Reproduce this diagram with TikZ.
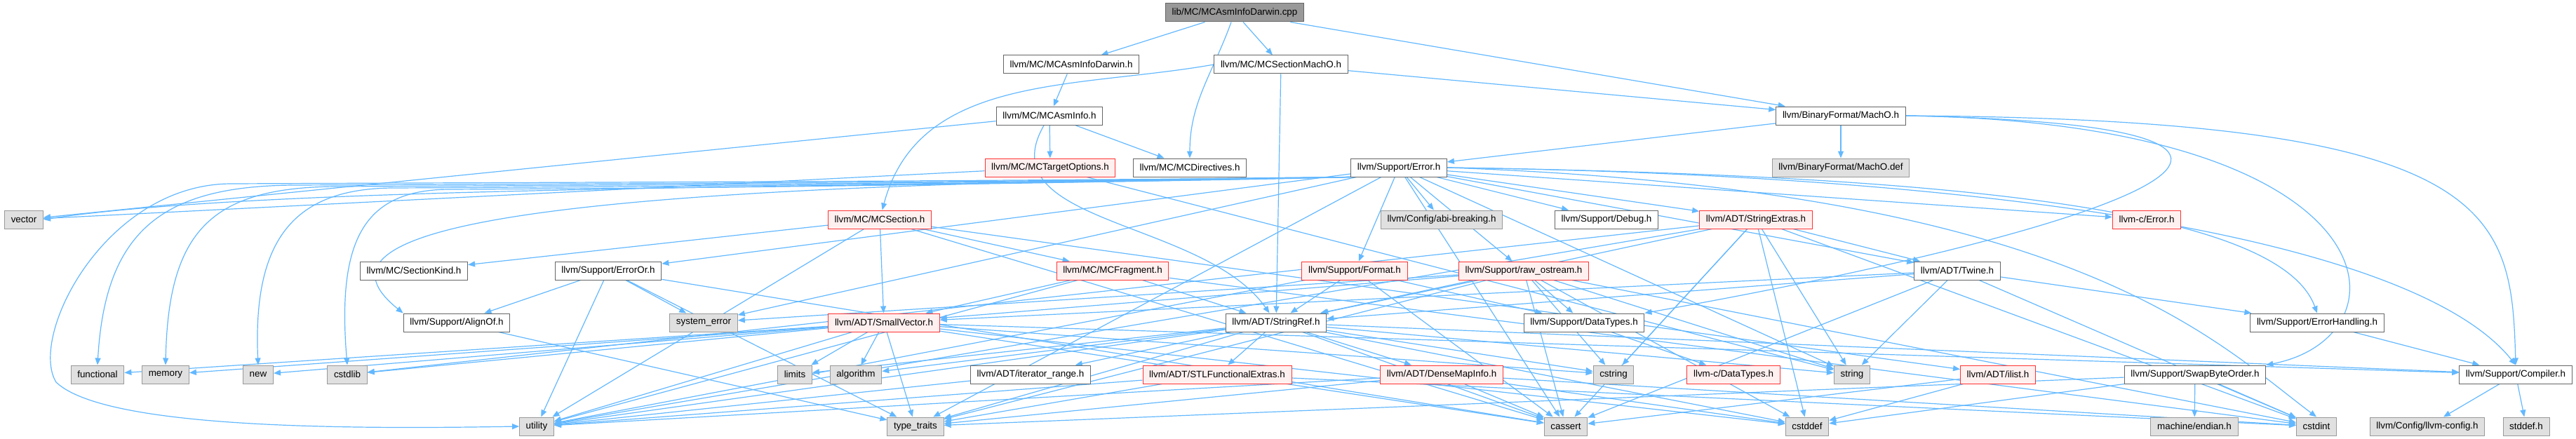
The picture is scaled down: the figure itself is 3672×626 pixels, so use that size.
\documentclass[tikz,border=0pt]{standalone}
\usepackage{fontspec}
\setmainfont{Liberation Sans}
\usetikzlibrary{arrows.meta, backgrounds}
\definecolor{edgeblue}{HTML}{63B8FF}
\definecolor{boxgrey}{HTML}{666666}
\definecolor{sysfill}{HTML}{E0E0E0}
\definecolor{sysline}{HTML}{999999}
\definecolor{truncline}{HTML}{FF3333}
\definecolor{truncfill}{HTML}{FFF0F0}
\definecolor{rootfill}{HTML}{999999}
\begin{document}
\begin{tikzpicture}[
    x=0.5pt, y=-0.5pt,
    hdr/.style={draw=boxgrey, fill=white, line width=0.5pt, minimum height=13pt,
      inner xsep=4.6pt, inner ysep=0pt, font=\fontsize{6.7}{7}\selectfont},
    sys/.style={hdr, draw=sysline, fill=sysfill},
    trunc/.style={hdr, draw=truncline, fill=truncfill},
    root/.style={hdr, fill=rootfill},
    dep/.style={draw=edgeblue, line width=0.6pt, -{Triangle[length=5pt,width=4pt]}},
  ]
  \useasboundingbox (0,0) rectangle (3672,626);
  % rank 0-2: the source file and its direct headers
  \node[root] (cpp) at (1760,18) {lib/MC/MCAsmInfoDarwin.cpp};
  \node[hdr] (aid) at (1527,92) {llvm/MC/MCAsmInfoDarwin.h};
  \node[hdr] (smo) at (1826,92) {llvm/MC/MCSectionMachO.h};
  \node[hdr] (mai) at (1496,165) {llvm/MC/MCAsmInfo.h};
  \node[hdr] (macho) at (2624,165) {llvm/BinaryFormat/MachO.h};
  % rank 3
  \node[trunc] (mto) at (1497,239) {llvm/MC/MCTargetOptions.h};
  \node[hdr] (mdir) at (1696,239) {llvm/MC/MCDirectives.h};
  \node[hdr] (err) at (1994,239) {llvm/Support/Error.h};
  \node[sys] (machodef) at (2624,239) {llvm/BinaryFormat/MachO.def};
  % rank 4
  \node[sys] (vector) at (34,313) {vector};
  \node[trunc] (msec) at (1254,313) {llvm/MC/MCSection.h};
  \node[sys] (abi) at (2055,313) {llvm/Config/abi-breaking.h};
  \node[hdr] (dbg) at (2290,313) {llvm/Support/Debug.h};
  \node[trunc] (sext) at (2503,313) {llvm/ADT/StringExtras.h};
  \node[trunc] (cerr) at (3060,313) {llvm-c/Error.h};
  % rank 5
  \node[hdr] (skind) at (590,386) {llvm/MC/SectionKind.h};
  \node[hdr] (eor) at (867,386) {llvm/Support/ErrorOr.h};
  \node[trunc] (mfrag) at (1586,386) {llvm/MC/MCFragment.h};
  \node[trunc] (fmt) at (1931,386) {llvm/Support/Format.h};
  \node[trunc] (ros) at (2172,386) {llvm/Support/raw\_ostream.h};
  \node[hdr] (twine) at (2790,386) {llvm/ADT/Twine.h};
  % rank 6
  \node[hdr] (align) at (651,460) {llvm/Support/AlignOf.h};
  \node[sys] (syserr) at (1003,460) {system\_error};
  \node[trunc] (svec) at (1260,460) {llvm/ADT/SmallVector.h};
  \node[hdr] (sref) at (1819,460) {llvm/ADT/StringRef.h};
  \node[hdr] (dtypes) at (2258,460) {llvm/Support/DataTypes.h};
  \node[hdr] (ehand) at (3303,460) {llvm/Support/ErrorHandling.h};
  % rank 7
  \node[sys] (functional) at (139,534) {functional};
  \node[sys] (memory) at (236,534) {memory};
  \node[sys] (new) at (368,534) {new};
  \node[sys] (cstdlib) at (495,534) {cstdlib};
  \node[sys] (limits) at (1133,534) {limits};
  \node[sys] (algorithm) at (1220,534) {algorithm};
  \node[hdr] (itr) at (1469,534) {llvm/ADT/iterator\_range.h};
  \node[trunc] (stlfe) at (1735,534) {llvm/ADT/STLFunctionalExtras.h};
  \node[trunc] (dmi) at (2055,534) {llvm/ADT/DenseMapInfo.h};
  \node[sys] (cstring) at (2300,534) {cstring};
  \node[trunc] (cdtypes) at (2471,534) {llvm-c/DataTypes.h};
  \node[sys] (string) at (2640,534) {string};
  \node[trunc] (ilist) at (2848,534) {llvm/ADT/ilist.h};
  \node[hdr] (swap) at (3129,534) {llvm/Support/SwapByteOrder.h};
  \node[hdr] (comp) at (3586,534) {llvm/Support/Compiler.h};
  % rank 8
  \node[sys] (utility) at (765,608) {utility};
  \node[sys] (traits) at (1305,608) {type\_traits};
  \node[sys] (cassert) at (2232,608) {cassert};
  \node[sys] (cstddef) at (2576,608) {cstddef};
  \node[sys] (endian) at (3128,608) {machine/endian.h};
  \node[sys] (cstdint) at (3302,608) {cstdint};
  \node[sys] (llvmcfg) at (3460,608) {llvm/Config/llvm-config.h};
  \node[sys] (stddef) at (3601,608) {stddef.h};
  % include edges, behind the boxes
  \begin{scope}[on background layer]
    \foreach \a/\b in {cpp/aid, cpp/smo, cpp/macho, aid/mai, smo/sref, smo/macho,
        mai/vector, mai/mto, mai/mdir, mto/vector, mto/string, macho/err, macho/machodef,
        err/cerr, err/twine, err/abi, err/dbg, err/eor, err/fmt, err/ros, err/sext,
        err/cassert, err/string, err/syserr, err/traits,
        msec/svec, msec/mfrag, msec/skind, msec/ilist, msec/cassert, msec/utility,
        mfrag/svec, mfrag/sref, mfrag/cstdint, mfrag/utility,
        eor/align, eor/cassert, eor/syserr, eor/traits, eor/utility, align/traits,
        fmt/sref, fmt/dtypes, fmt/cassert, fmt/utility,
        ros/svec, ros/sref, ros/dtypes, ros/cassert, ros/cstddef, ros/cstdint,
        ros/cstring, ros/string, ros/syserr, ros/traits,
        sext/sref, sext/twine, sext/cassert, sext/cstddef, sext/cstdint, sext/cstdlib,
        sext/cstring, sext/string, sext/utility,
        twine/svec, twine/sref, twine/ehand, twine/cassert, twine/cstdint, twine/string,
        svec/comp, svec/algorithm, svec/cassert, svec/cstddef, svec/cstdlib, svec/cstring,
        svec/functional, svec/limits, svec/memory, svec/new, svec/traits, svec/utility,
        sref/dmi, sref/stlfe, sref/itr, sref/comp, sref/algorithm, sref/cassert,
        sref/cstddef, sref/cstring, sref/limits, sref/string, sref/traits, sref/utility,
        dtypes/cdtypes, ehand/comp, itr/utility,
        stlfe/cstdint, stlfe/traits, stlfe/utility,
        dmi/cassert, dmi/cstddef, dmi/cstdint, dmi/traits, dmi/utility,
        ilist/cassert, ilist/cstddef,
        swap/endian, swap/cstdint, swap/cstddef, swap/traits,
        comp/llvmcfg, comp/stddef}
      \draw[dep] (\a) -- (\b);
    % routed edges
    \draw[dep] (cpp) to[out=-110, in=90] (mdir);
    \draw[dep] (smo.west) to[out=190, in=75] (msec);
    \draw[dep] (mai) to[out=-120, in=125] (sref);
    \draw[dep] (macho.east) .. controls (3450,180) and (3000,330) .. (dtypes.north east);
    \draw[dep] (macho.east) .. controls (3420,175) and (3440,480) .. (swap.north east);
    \draw[dep] (macho.east) .. controls (3560,170) and (3580,300) .. (comp.north);
    \draw[dep] (err.south west) .. controls (700,262) and (430,330) .. (align.north west);
    \draw[dep] (err.east) .. controls (2900,250) and (3450,350) .. (comp.north);
    \draw[dep] (err.east) .. controls (2800,250) and (3250,300) .. (ehand.north);
    \draw[dep] (err.east) .. controls (2950,270) and (3150,480) .. (cstdint.north);
    \draw[dep] (err.south west) .. controls (1300,268) and (400,262) .. (vector.east);
    % left bundle of Error.h, running under rank 3 before dropping down
    \draw[dep] (err.south west) .. controls (1400,260) and (900,262) .. (420,264)
      .. controls (230,265) and (150,330) .. (functional.north);
    \draw[dep] (err.south west) .. controls (1400,261) and (950,264) .. (480,266)
      .. controls (300,267) and (240,330) .. (memory.north);
    \draw[dep] (err.south west) .. controls (1400,262) and (1000,266) .. (560,268)
      .. controls (420,269) and (360,340) .. (new.north);
    \draw[dep] (err.south west) .. controls (1400,263) and (1050,268) .. (640,270)
      .. controls (520,271) and (480,340) .. (cstdlib.north);
    \draw[dep] (err.south west) .. controls (1400,259) and (800,260) .. (330,262)
      .. controls (150,262) and (40,480) .. (80,545)
      .. controls (150,612) and (500,612) .. (utility.west);
  \end{scope}
\end{tikzpicture}
\end{document}
